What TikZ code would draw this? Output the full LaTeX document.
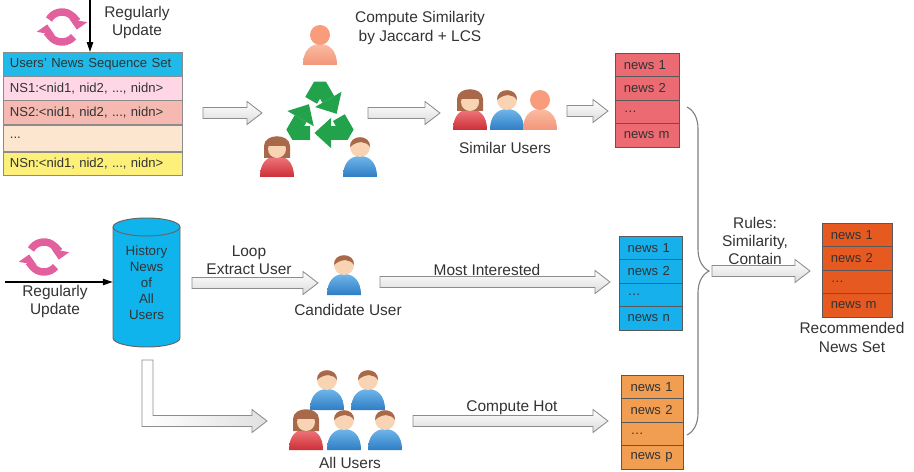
\documentclass[tikz,border=0pt]{standalone}
\usepackage{fontspec}
\setmainfont{Liberation Sans}
\usetikzlibrary{arrows.meta, calc, positioning, decorations.pathreplacing}

\definecolor{seqhead}{HTML}{1FBAEA}
\definecolor{seqone}{HTML}{FFD6E6}
\definecolor{seqtwo}{HTML}{F5B9B2}
\definecolor{seqdots}{HTML}{FCE6CF}
\definecolor{seqlast}{HTML}{FCF07A}
\definecolor{simred}{HTML}{EC6B73}
\definecolor{candblue}{HTML}{16B0EC}
\definecolor{hotorange}{HTML}{F19E52}
\definecolor{recorange}{HTML}{E65A22}
\definecolor{histblue}{HTML}{10B4EC}
\definecolor{syncpink}{HTML}{E2609E}
\definecolor{recycgreen}{HTML}{22A24A}
\definecolor{skin}{HTML}{F9D4B4}
\definecolor{hair}{HTML}{A8694A}
\definecolor{shirtlight}{HTML}{6FB6EA}
\definecolor{shirtdark}{HTML}{2F7DC4}
\definecolor{dresslight}{HTML}{F0787E}
\definecolor{dressdark}{HTML}{CC2F36}
\definecolor{guesthead}{HTML}{F89C7C}
\definecolor{guestlight}{HTML}{FBBCA2}
\definecolor{guestdark}{HTML}{F2957A}

\newcommand{\lblfont}{\fontsize{11}{13}\selectfont}
\newcommand{\cellfont}{\fontsize{9.3}{11}\selectfont}

\tikzset{
  lbl/.style={align=center, font=\lblfont, inner sep=0pt},
  seqcell/.style={draw=black!45, minimum width=4.475cm, text width=4.13cm, align=left,
    inner xsep=0.17cm, inner ysep=0pt, font=\cellfont, minimum height=0.59cm},
  newscell/.style={draw=black!65, align=left, inner xsep=0.22cm, inner ysep=0pt,
    minimum height=0.5875cm, font=\cellfont},
  feed/.style={black, line width=0.8pt, -{Triangle[length=7pt,width=4.5pt]}},
  sync/.style={draw=syncpink, line width=5.3pt, -{Triangle[length=6.5pt,width=12.5pt]}},
  recycarm/.style={draw=recycgreen, line width=0.34cm, line join=bevel},
  cyl/.style={fill=histblue, draw=black!60, line width=0.7pt},
  bracestyle/.style={draw=black!50, line width=0.8pt, decorate, decoration={brace, amplitude=0.55cm}},
  % block arrow: straight, left to right
  hollow/.style={draw=black!45, line width=0.6pt, top color=white, bottom color=black!14,
    to path={let \p1=(\tikztostart), \p2=(\tikztotarget) in
      (\x1,\y1+3.9pt) -- (\x2-10.7pt,\y1+3.9pt) -- (\x2-10.7pt,\y1+8.2pt) -- (\x2,\y1)
      -- (\x2-10.7pt,\y1-8.2pt) -- (\x2-10.7pt,\y1-3.9pt) -- (\x1,\y1-3.9pt) -- cycle}},
  % block arrow: down, then right
  hollowL/.style={draw=black!45, line width=0.6pt, left color=white, right color=black!12,
    to path={let \p1=(\tikztostart), \p2=(\tikztotarget) in
      (\x1-3.9pt,\y1) -- (\x1-3.9pt,\y2-3.9pt) -- (\x2-10.7pt,\y2-3.9pt) -- (\x2-10.7pt,\y2-8.2pt)
      -- (\x2,\y2) -- (\x2-10.7pt,\y2+8.2pt) -- (\x2-10.7pt,\y2+3.9pt) -- (\x1+3.9pt,\y2+3.9pt)
      -- (\x1+3.9pt,\y1) -- cycle}},
  man/.pic={
    \shade[top color=shirtlight, bottom color=shirtdark] (-17,40) .. controls (-17,25) and (-9,19) .. (0,19)
      .. controls (9,19) and (17,25) .. (17,40) -- cycle;
    \fill[skin] (0,10) circle[radius=10];
    \fill[hair] (-10,10) .. controls (-11,-3) and (11,-3) .. (10,10) .. controls (6,4) and (-2,3) .. cycle;
  },
  woman/.pic={
    \shade[top color=dresslight, bottom color=dressdark] (-17,40) .. controls (-17,25) and (-9,19) .. (0,19)
      .. controls (9,19) and (17,25) .. (17,40) -- cycle;
    \fill[hair] (-13,21) -- (-13,9) .. controls (-13,-4) and (13,-4) .. (13,9) -- (13,21) -- cycle;
    \fill[skin] (0,12) circle[radius=9];
    \fill[hair] (-10,9) .. controls (-10,-1) and (10,-1) .. (10,9) -- cycle;
  },
  guest/.pic={
    \shade[top color=guestlight, bottom color=guestdark] (-17,40) .. controls (-17,25) and (-9,19) .. (0,19)
      .. controls (9,19) and (17,25) .. (17,40) -- cycle;
    \fill[guesthead] (0,10) circle[radius=10];
  },
}

% one column of news items, #1 name, #2 x, #3 top y, #4 fill, #5 last entry, #6 text width (cm)
\newcommand{\newslist}[6]{%
  \foreach \t [count=\i] in {news 1,news 2,\ldots,#5}
    \node[newscell, fill=#4, text width=#6cm] (#1\i) at (#2,{#3+(\i-0.5)*23.5}) {\t};
}

\begin{document}
\begin{tikzpicture}[x=0.025cm, y=-0.025cm, every node/.style={text=black!80}]
\useasboundingbox (0,0) rectangle (914,472);

% ---- sequence set, updated from above
\coordinate (topsync) at (62,27);
\draw[sync] (topsync) ++(-150:15) arc[start angle=-150, end angle=10, radius=15];
\draw[sync] (topsync) ++(40:15) arc[start angle=40, end angle=190, radius=15];
\node[lbl] (topupd) at (137,22.5) {Regularly\\Update};

\node[seqcell, fill=seqhead, anchor=north] (seqhead) at (92.5,52) {Users' News Sequence Set};
\node[seqcell, fill=seqone, below=0pt of seqhead] (seq1) {NS1:<nid1, nid2, ..., nidn>};
\node[seqcell, fill=seqtwo, below=0pt of seq1] (seq2) {NS2:<nid1, nid2, ..., nidn>};
\node[seqcell, fill=seqdots, below=0pt of seq2, minimum height=0.665cm] (seqd) {...};
\node[seqcell, fill=seqlast, below=0pt of seqd] (seqn) {NSn:<nid1, nid2, ..., nidn>};

\coordinate (topin) at (90,0);
\draw[feed] (topin) -- (topin |- seqhead.north);

% ---- similarity part
\coordinate (a1s) at (203,113);
\coordinate (a1e) at (262,113);
\draw[hollow] (a1s) to (a1e);

\pic at (320,25) {guest};
\coordinate (recyc) at (320,117);
\foreach \a in {270,30,150} {
  \coordinate (p) at ($(recyc)+(\a-120:32)$);
  \coordinate (v) at ($(recyc)+(\a:32)$);
  \coordinate (n) at ($(recyc)+(\a+120:32)$);
  \coordinate (b) at ($(v)!0.3!(n)$);
  \draw[recycarm] ($(p)!0.68!(v)$) -- (v) -- (b);
  \fill[recycgreen] ($(b)!0.38cm!90:(n)$) -- ($(v)!0.6!(n)$) -- ($(b)!0.38cm!-90:(n)$) -- cycle;
}
\pic at (277,137) {woman};
\pic at (360,137) {man};
\node[lbl] (jacc) at (420,28) {Compute Similarity\\by Jaccard + LCS};

\coordinate (a2s) at (368,113);
\coordinate (a2e) at (440,113);
\draw[hollow] (a2s) to (a2e);

\pic at (470,90) {woman};
\pic at (507,90) {man};
\pic at (540,90) {guest};
\node[lbl] (simusers) at (505,148) {Similar Users};

\coordinate (a3s) at (567,111);
\coordinate (a3e) at (608,111);
\draw[hollow] (a3s) to (a3e);
\newslist{sim}{647}{53}{simred}{news m}{1.16}

% ---- history database and candidate user
\coordinate (midsync) at (44,257);
\draw[sync] (midsync) ++(-150:15) arc[start angle=-150, end angle=10, radius=15];
\draw[sync] (midsync) ++(40:15) arc[start angle=40, end angle=190, radius=15];
\node[lbl] (midupd) at (55,301.5) {Regularly\\Update};

\filldraw[cyl] (113,227) -- (113,338) arc[start angle=180, end angle=0, x radius=33.5, y radius=9]
  -- (180,227) arc[start angle=0, end angle=-180, x radius=33.5, y radius=9] -- cycle;
\draw[cyl, fill=none] (113,227) arc[start angle=180, end angle=0, x radius=33.5, y radius=9];
\node[align=center, font=\fontsize{9.5}{11.4}\selectfont, minimum width=1.675cm] (hist) at (146.5,283) {History\\News\\of\\All\\Users};

\coordinate (midin) at (5,282);
\draw[feed] (midin) -- (midin -| hist.west);

\coordinate (loops) at (192,283);
\coordinate (loope) at (318,283);
\draw[hollow] (loops) to (loope);
\node[lbl] (loop) at (249,260.5) {Loop\\Extract User};

\pic at (344,255) {man};
\node[lbl] (canduser) at (348,310) {Candidate User};

\coordinate (mis) at (380,282);
\coordinate (mie) at (610,282);
\draw[hollow] (mis) to (mie);
\node[lbl] (mostint) at (487,270) {Most Interested};
\newslist{cand}{650.5}{236}{candblue}{news n}{1.14}

% ---- all users and hot news
\coordinate (downs) at (147.5,360);
\coordinate (downe) at (267,421);
\draw[hollowL] (downs) to (downe);

\pic at (327,370) {man};
\pic at (368,370) {man};
\pic at (306,410) {woman};
\pic at (344,410) {man};
\pic at (385,410) {man};
\node[lbl] (allusers) at (350,463) {All Users};

\coordinate (hots) at (413,421);
\coordinate (hote) at (608,421);
\draw[hollow] (hots) to (hote);
\node[lbl] (comphot) at (512,408) {Compute Hot};
\newslist{hot}{652.5}{375}{hotorange}{news p}{1.1}

% ---- merge by rules
\coordinate (bracetop) at (687,107);
\coordinate (bracebot) at (687,435);
\draw[bracestyle] (bracetop) -- (bracebot);

\coordinate (rules) at (712,271);
\coordinate (rulee) at (810,271);
\draw[hollow] (rules) to (rulee);
\node[lbl] (rulelbl) at (755,241) {Rules:\\Similarity,\\Contain};

\newslist{rec}{857}{223}{recorange}{news m}{1.31}
\node[lbl] (reclbl) at (852,337.5) {Recommended\\News Set};

\end{tikzpicture}
\end{document}
